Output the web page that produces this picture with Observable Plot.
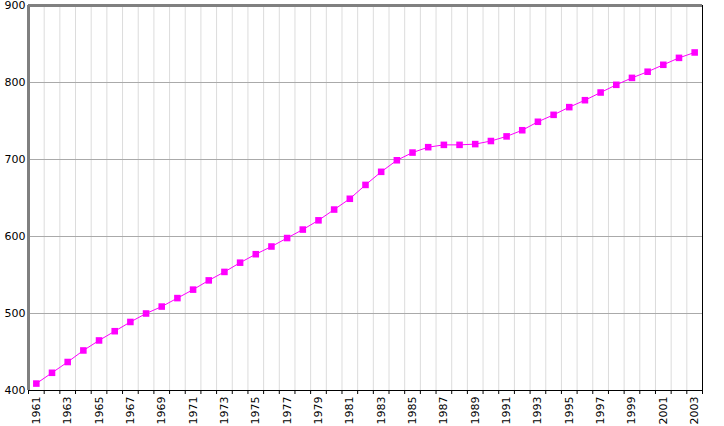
<!DOCTYPE html>
<html>
<head>
<meta charset="utf-8">
<script src="https://cdn.jsdelivr.net/npm/d3@7"></script>
<script src="https://cdn.jsdelivr.net/npm/@observablehq/plot@0.6"></script>
<style>
  html, body { margin: 0; padding: 0; background: #fff; }
  svg { display: block; }
</style>
</head>
<body>
<div id="chart"></div>
<script>
const years = d3.range(1961, 2004);
const values = [
  409, 423, 437, 452, 465, 477, 489, 500, 509, 520,
  531, 543, 554, 566, 577, 587, 598, 609, 621, 635,
  649, 667, 684, 699, 709, 716, 719, 719, 720, 724,
  730, 738, 749, 758, 768, 777, 787, 797, 806, 814,
  823, 832, 839
];
const yTicks = [400, 500, 600, 700, 800, 900];
const xLabelYears = years.filter(y => (y - 1961) % 2 === 0);

const data = years.map((yr, i) => ({year: yr, value: values[i]}));
const boundaries = d3.range(1960.5, 2004, 1);

const chart = Plot.plot({
  width: 724,
  height: 426,
  marginLeft: 28,
  marginRight: 22,
  marginTop: 5,
  marginBottom: 36,
  style: {fontFamily: "DejaVu Sans", fontSize: "11px", color: "#000", background: "#fff"},
  x: {domain: [1960.5, 2003.5], axis: null},
  y: {domain: [400, 900], axis: null},
  marks: [
    Plot.ruleX(boundaries.slice(1, -1), {stroke: "#dcdcdc", strokeWidth: 1}),
    Plot.ruleY(yTicks.slice(1, -1), {stroke: "#aaaaaa", strokeWidth: 1}),
    Plot.ruleY([400], {stroke: "#000", strokeWidth: 1}),
    Plot.ruleX([2003.5], {stroke: "#000", strokeWidth: 1}),
    Plot.ruleY([900], {stroke: "#808080", strokeWidth: 3}),
    Plot.ruleX([1960.5], {stroke: "#808080", strokeWidth: 3}),
    Plot.axisX(boundaries, {tickSize: 4, tickFormat: () => "", stroke: "#000", label: null}),
    Plot.axisX(xLabelYears, {tickSize: 0, tickPadding: 6, tickRotate: -90, tickFormat: d => String(d), fill: "#000", label: null}),
    Plot.axisY(yTicks, {tickSize: 0, tickPadding: 3, tickFormat: d => String(d), fill: "#000", label: null}),
    Plot.line(data, {x: "year", y: "value", stroke: "#ff00ff", strokeWidth: 1}),
    Plot.dot(data, {x: "year", y: "value", symbol: "square", r: 3.7, fill: "#ff00ff", stroke: "none"})
  ]
});
document.getElementById("chart").appendChild(chart);
</script>
</body>
</html>
